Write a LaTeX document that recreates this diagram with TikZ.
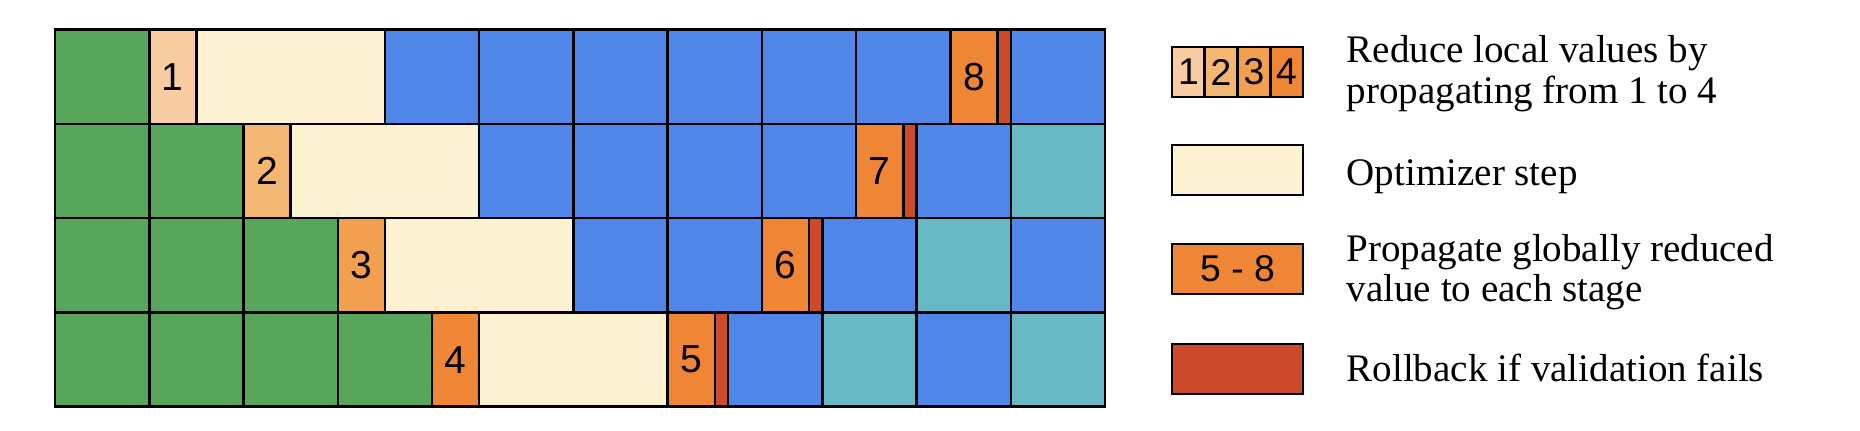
\documentclass[tikz,border=0pt]{standalone}
\usepackage{fontspec}
\setmainfont{Liberation Serif}
\newfontfamily\numfont{Liberation Sans}
\definecolor{cgreen}{HTML}{58A55C}
\definecolor{cblue}{HTML}{5086E8}
\definecolor{cteal}{HTML}{68B9C3}
\definecolor{copt}{HTML}{FCF1D1}
\definecolor{cone}{HTML}{F8CDA2}
\definecolor{ctwo}{HTML}{F3B673}
\definecolor{cthree}{HTML}{F1A04F}
\definecolor{cfour}{HTML}{EF8636}
\definecolor{cred}{HTML}{CB4A2A}
\tikzset{
  cellline/.style={draw=black, line width=0.72pt},
  num/.style={inner sep=0pt, font=\numfont\fontsize{11.1}{13}\selectfont},
  lnum/.style={inner sep=0pt, font=\numfont\fontsize{10.6}{12}\selectfont},
  ltext/.style={anchor=base west, inner sep=0pt, font=\fontsize{11.1}{13}\selectfont},
}
\newcommand{\gcell}[4]{\path[cellline, fill=#4] (#1,#3) rectangle (#2,#3+1);}
\begin{document}
\begin{tikzpicture}[x=0.01cm,y=-0.01cm]
\useasboundingbox (0,0) rectangle (1860,430);
\begin{scope}[xshift=0.55cm, yshift=-0.297cm, x=0.942cm, y=-0.942cm]
% row 0
\gcell{0}{1}{0}{cgreen}
\gcell{1}{1.5}{0}{cone}
\gcell{1.5}{3.5}{0}{copt}
\gcell{3.5}{4.5}{0}{cblue}
\gcell{4.5}{5.5}{0}{cblue}
\gcell{5.5}{6.5}{0}{cblue}
\gcell{6.5}{7.5}{0}{cblue}
\gcell{7.5}{8.5}{0}{cblue}
\gcell{8.5}{9.5}{0}{cblue}
\gcell{9.5}{10}{0}{cfour}
\gcell{10}{10.142}{0}{cred}
\gcell{10.142}{11.142}{0}{cblue}
% row 1
\gcell{0}{1}{1}{cgreen}
\gcell{1}{2}{1}{cgreen}
\gcell{2}{2.5}{1}{ctwo}
\gcell{2.5}{4.5}{1}{copt}
\gcell{4.5}{5.5}{1}{cblue}
\gcell{5.5}{6.5}{1}{cblue}
\gcell{6.5}{7.5}{1}{cblue}
\gcell{7.5}{8.5}{1}{cblue}
\gcell{8.5}{9}{1}{cfour}
\gcell{9}{9.142}{1}{cred}
\gcell{9.142}{10.142}{1}{cblue}
\gcell{10.142}{11.142}{1}{cteal}
% row 2
\gcell{0}{1}{2}{cgreen}
\gcell{1}{2}{2}{cgreen}
\gcell{2}{3}{2}{cgreen}
\gcell{3}{3.5}{2}{cthree}
\gcell{3.5}{5.5}{2}{copt}
\gcell{5.5}{6.5}{2}{cblue}
\gcell{6.5}{7.5}{2}{cblue}
\gcell{7.5}{8}{2}{cfour}
\gcell{8}{8.142}{2}{cred}
\gcell{8.142}{9.142}{2}{cblue}
\gcell{9.142}{10.142}{2}{cteal}
\gcell{10.142}{11.142}{2}{cblue}
% row 3
\gcell{0}{1}{3}{cgreen}
\gcell{1}{2}{3}{cgreen}
\gcell{2}{3}{3}{cgreen}
\gcell{3}{4}{3}{cgreen}
\gcell{4}{4.5}{3}{cfour}
\gcell{4.5}{6.5}{3}{copt}
\gcell{6.5}{7}{3}{cfour}
\gcell{7}{7.142}{3}{cred}
\gcell{7.142}{8.142}{3}{cblue}
\gcell{8.142}{9.142}{3}{cteal}
\gcell{9.142}{10.142}{3}{cblue}
\gcell{10.142}{11.142}{3}{cteal}
% labels
\node[num] (n1) at (1.25,0.5) {1};
\node[num] (n2) at (2.25,1.5) {2};
\node[num] (n3) at (3.25,2.5) {3};
\node[num] (n4) at (4.25,3.5) {4};
\node[num] (n5) at (6.75,3.5) {5};
\node[num] (n6) at (7.75,2.5) {6};
\node[num] (n7) at (8.75,1.5) {7};
\node[num] (n8) at (9.75,0.5) {8};
\end{scope}
% legend
\path[cellline, fill=cone]   (1172,47) rectangle (1204.75,97);
\path[cellline, fill=ctwo]   (1204.75,47) rectangle (1237.5,97);
\path[cellline, fill=cthree] (1237.5,47) rectangle (1270.25,97);
\path[cellline, fill=cfour]  (1270.25,47) rectangle (1303,97);
\node[lnum] (l1) at (1188.4,72) {1};
\node[lnum] (l2) at (1221.1,72) {2};
\node[lnum] (l3) at (1253.9,72) {3};
\node[lnum] (l4) at (1286.6,72) {4};
\path[cellline, fill=copt] (1172,145) rectangle (1303,195);
\path[cellline, fill=cfour] (1172,244) rectangle (1303,294);
\node[lnum] (l58) at (1237.5,269) {5 - 8};
\path[cellline, fill=cred] (1172,344) rectangle (1303,394);
\node[ltext] (t1a) at (1346,62) {Reduce local values by};
\node[ltext] (t1b) at (1346,103) {propagating from 1 to 4};
\node[ltext] (t2) at (1346,185) {Optimizer step};
\node[ltext] (t3a) at (1346,261) {Propagate globally reduced};
\node[ltext] (t3b) at (1346,301) {value to each stage};
\node[ltext] (t4) at (1346,381) {Rollback if validation fails};
\end{tikzpicture}
\end{document}
